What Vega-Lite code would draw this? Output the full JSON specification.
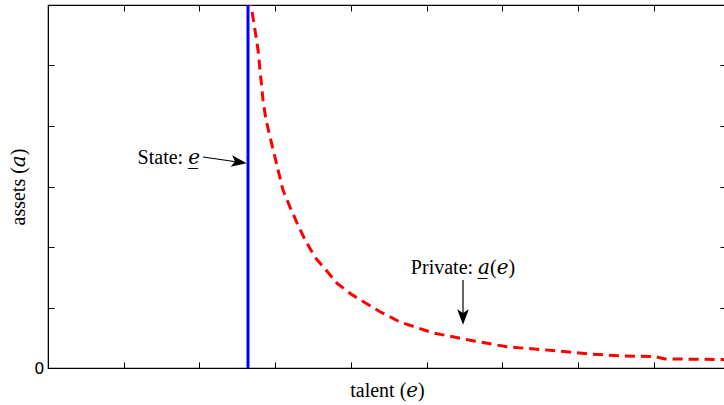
{
  "$schema": "https://vega.github.io/schema/vega-lite/v6.json",
  "width": 678,
  "height": 363,
  "autosize": {"type": "none"},
  "padding": {"left": 48, "top": 5, "right": 0, "bottom": 37},
  "background": "white",
  "config": {
    "view": {"stroke": "black", "strokeWidth": 1.2},
    "axis": {"domainColor": "black", "tickColor": "black", "grid": false, "titleFont": "Liberation Serif, DejaVu Serif", "titleFontSize": 20, "titleFontWeight": "normal", "titleColor": "black", "labelFont": "DejaVu Sans", "labelFontSize": 16, "labelColor": "black"}
  },
  "datasets": {
    "curve": [
      {"talent": 2.662, "assets": 6.41},
      {"talent": 2.682, "assets": 6.0},
      {"talent": 2.734, "assets": 5.59},
      {"talent": 2.774, "assets": 5.26},
      {"talent": 2.814, "assets": 4.76},
      {"talent": 2.840, "assets": 4.43},
      {"talent": 2.880, "assets": 4.10},
      {"talent": 2.985, "assets": 3.55},
      {"talent": 3.104, "assets": 2.94},
      {"talent": 3.197, "assets": 2.66},
      {"talent": 3.289, "assets": 2.40},
      {"talent": 3.395, "assets": 2.12},
      {"talent": 3.527, "assets": 1.83},
      {"talent": 3.672, "assets": 1.62},
      {"talent": 3.818, "assets": 1.40},
      {"talent": 4.016, "assets": 1.21},
      {"talent": 4.386, "assets": 0.93},
      {"talent": 4.650, "assets": 0.76},
      {"talent": 5.086, "assets": 0.58},
      {"talent": 5.575, "assets": 0.46},
      {"talent": 6.063, "assets": 0.35},
      {"talent": 6.764, "assets": 0.28},
      {"talent": 7.160, "assets": 0.23},
      {"talent": 7.556, "assets": 0.20},
      {"talent": 8.018, "assets": 0.19},
      {"talent": 8.150, "assets": 0.15},
      {"talent": 8.960, "assets": 0.14}
    ],
    "stateLabel": [{"text": "State: 𝑒̲", "x": 2.008, "y": 3.471}],
    "privateLabel": [{"text": "Private: 𝑎̲(𝑒)", "x": 5.482, "y": 1.653}],
    "arrows": [
      {"id": "state", "x": 2.048, "y": 3.488},
      {"id": "state", "x": 2.530, "y": 3.401},
      {"id": "private", "x": 5.482, "y": 1.455},
      {"id": "private", "x": 5.482, "y": 0.86}
    ],
    "heads": [
      {"id": "state", "x": 2.515, "y": 3.404, "angle": 98},
      {"id": "private", "x": 5.482, "y": 0.855, "angle": 180}
    ],
    "cutoff": [{"talent": 2.642}]
  },
  "layer": [
    {
      "data": {"name": "curve"},
      "mark": {"type": "line", "color": "#ff0000", "strokeWidth": 3, "strokeDash": [10, 6], "clip": true},
      "encoding": {
        "x": {"field": "talent", "type": "quantitative", "scale": {"domain": [0, 8.956], "nice": false, "zero": false},
          "axis": {"orient": "bottom", "title": "talent (𝑒)", "values": [1, 2, 3, 4, 5, 6, 7, 8], "labels": false, "tickSize": -6, "titlePadding": 12}},
        "y": {"field": "assets", "type": "quantitative", "scale": {"domain": [0, 6], "nice": false},
          "axis": {"orient": "left", "title": "assets (𝑎)", "values": [0, 1, 2, 3, 4, 5], "labelExpr": "datum.value == 0 ? '0' : ''", "tickSize": -6, "labelPadding": 10, "titlePadding": 5}}
      }
    },
    {
      "data": {"name": "curve"},
      "mark": {"type": "point", "opacity": 0},
      "encoding": {
        "x": {"field": "talent", "type": "quantitative", "axis": {"orient": "top", "title": null, "values": [1, 2, 3, 4, 5, 6, 7, 8], "labels": false, "tickSize": -6}},
        "y": {"field": "assets", "type": "quantitative", "axis": {"orient": "right", "title": null, "values": [1, 2, 3, 4, 5], "labels": false, "tickSize": -6}}
      }
    },
    {
      "data": {"name": "cutoff"},
      "mark": {"type": "rule", "color": "#0000ff", "strokeWidth": 3},
      "encoding": {"x": {"field": "talent", "type": "quantitative", "axis": null}}
    },
    {
      "data": {"name": "arrows"},
      "mark": {"type": "line", "color": "black", "strokeWidth": 1.2},
      "encoding": {
        "x": {"field": "x", "type": "quantitative", "axis": null},
        "y": {"field": "y", "type": "quantitative", "axis": null},
        "detail": {"field": "id"}
      }
    },
    {
      "data": {"name": "heads"},
      "mark": {"type": "point", "shape": "M0,-1 L0.7,0.85 L0,0.4 L-0.7,0.85 Z", "filled": true, "color": "black", "opacity": 1, "size": 280},
      "encoding": {
        "x": {"field": "x", "type": "quantitative", "axis": null},
        "y": {"field": "y", "type": "quantitative", "axis": null},
        "angle": {"field": "angle", "type": "quantitative", "scale": null}
      }
    },
    {
      "data": {"name": "stateLabel"},
      "mark": {"type": "text", "font": "Liberation Serif, DejaVu Serif", "fontSize": 20, "baseline": "middle", "align": "right", "color": "black"},
      "encoding": {
        "x": {"field": "x", "type": "quantitative", "axis": null},
        "y": {"field": "y", "type": "quantitative", "axis": null},
        "text": {"field": "text"}
      }
    },
    {
      "data": {"name": "privateLabel"},
      "mark": {"type": "text", "font": "Liberation Serif, DejaVu Serif", "fontSize": 20, "baseline": "middle", "align": "center", "color": "black"},
      "encoding": {
        "x": {"field": "x", "type": "quantitative", "axis": null},
        "y": {"field": "y", "type": "quantitative", "axis": null},
        "text": {"field": "text"}
      }
    }
  ],
  "resolve": {"axis": {"x": "independent", "y": "independent"}}
}
